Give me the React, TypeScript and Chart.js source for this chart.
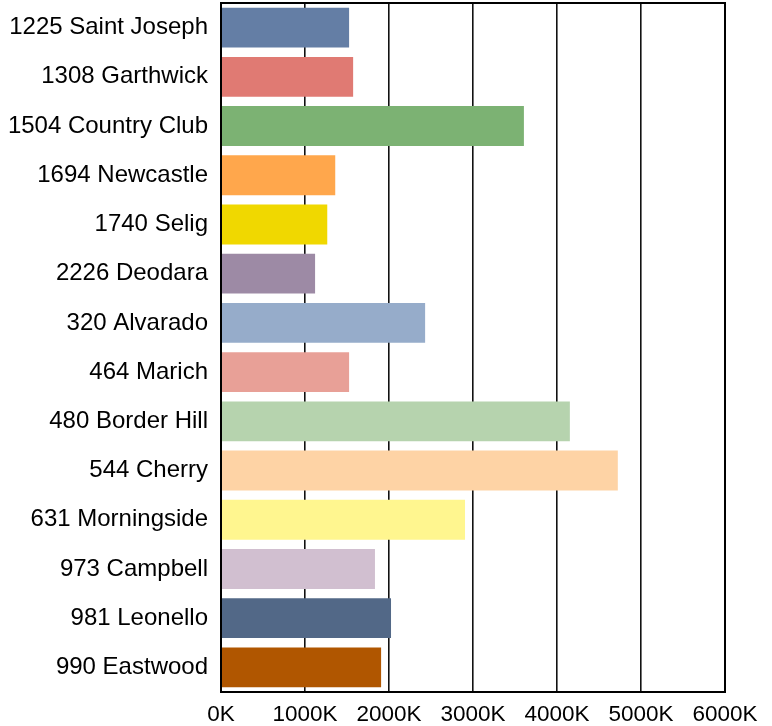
import React, { useEffect, useRef } from "react";
import { Chart, registerables } from "chart.js";

Chart.register(...registerables);

const categories: string[] = [
  "1225 Saint Joseph",
  "1308 Garthwick",
  "1504 Country Club",
  "1694 Newcastle",
  "1740 Selig",
  "2226 Deodara",
  "320 Alvarado",
  "464 Marich",
  "480 Border Hill",
  "544 Cherry",
  "631 Morningside",
  "973 Campbell",
  "981 Leonello",
  "990 Eastwood",
];

const values: number[] = [
  1525000, 1573000, 3606000, 1360000, 1265000, 1120000, 2430000, 1525000,
  4153000, 4724000, 2905000, 1833000, 2024000, 1906000,
];

const barColors: string[] = [
  "#647ea5",
  "#e07a73",
  "#7cb273",
  "#ffa74c",
  "#f0d800",
  "#9d8aa5",
  "#96acca",
  "#e8a097",
  "#b6d3ae",
  "#fed3a5",
  "#fff68f",
  "#d1bfd0",
  "#526887",
  "#b05600",
];

const xTicks: number[] = [0, 1000000, 2000000, 3000000, 4000000, 5000000, 6000000];

const frameBox = {
  id: "frameBox",
  afterDatasetsDraw(chart: any) {
    const { ctx, chartArea } = chart;
    ctx.save();
    ctx.strokeStyle = "#000";
    ctx.lineWidth = 2;
    ctx.strokeRect(
      chartArea.left,
      chartArea.top,
      chartArea.right - chartArea.left,
      chartArea.bottom - chartArea.top
    );
    ctx.restore();
  },
};

export default function App() {
  const ref = useRef<HTMLCanvasElement | null>(null);

  useEffect(() => {
    document.body.style.margin = "0";
    if (!ref.current) return;
    const chart = new Chart(ref.current, {
      type: "bar",
      data: {
        labels: categories,
        datasets: [
          {
            data: values,
            backgroundColor: barColors,
            borderWidth: 0,
            barPercentage: 0.81,
            categoryPercentage: 1,
          },
        ],
      },
      options: {
        indexAxis: "y",
        animation: false,
        responsive: false,
        maintainAspectRatio: false,
        layout: { padding: { left: 0, right: 47, top: 3, bottom: 0 } },
        plugins: {
          legend: { display: false },
          tooltip: { enabled: false },
        },
        scales: {
          x: {
            min: 0,
            max: 6000000,
            afterBuildTicks: (scale: any) => {
              scale.ticks = xTicks.map((v) => ({ value: v }));
            },
            afterFit: (scale: any) => {
              scale.height = 34;
              scale.paddingLeft = 0;
              scale.paddingRight = 0;
            },
            ticks: {
              color: "#000",
              padding: 9,
              maxRotation: 0,
              autoSkip: false,
              font: { family: "'Liberation Sans', Arial, sans-serif", size: 22.5 },
              callback: (v: any) => `${Number(v) / 1000}K`,
            },
            grid: {
              color: "#111",
              lineWidth: 1.6,
              drawTicks: false,
            },
            border: { display: true, color: "#000", width: 2 },
          },
          y: {
            afterFit: (scale: any) => {
              scale.width = 221;
              scale.paddingTop = 0;
              scale.paddingBottom = 0;
            },
            ticks: {
              color: "#000",
              padding: 13,
              autoSkip: false,
              font: { family: "'Liberation Sans', Arial, sans-serif", size: 24 },
            },
            grid: { display: false, drawTicks: false },
            border: { display: true, color: "#000", width: 2 },
          },
        },
      },
      plugins: [frameBox],
    });
    return () => chart.destroy();
  }, []);

  return (
    <div style={{ width: 772, height: 726 }}>
      <canvas ref={ref} width={772} height={726} style={{ display: "block" }} />
    </div>
  );
}
